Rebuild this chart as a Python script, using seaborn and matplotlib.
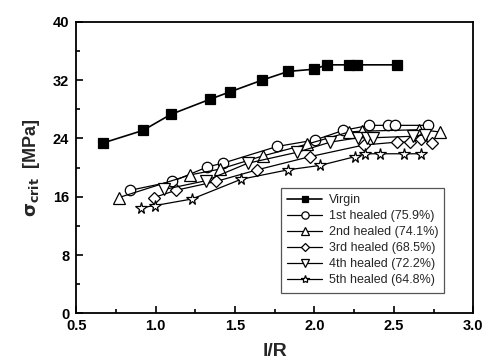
import matplotlib
matplotlib.use("Agg")
import matplotlib.pyplot as plt
import seaborn as sns
import pandas as pd

sns.set_style("ticks")
plt.rcParams['font.family'] = ['Liberation Sans', 'DejaVu Sans']

virgin_x = [0.672, 0.92, 1.096, 1.345, 1.469, 1.67, 1.835, 1.997, 2.077, 2.215, 2.27, 2.517]
virgin_y = [23.4, 25.1, 27.3, 29.4, 30.4, 32.0, 33.2, 33.5, 34.1, 34.1, 34.1, 34.1]

h1_x = [0.842, 1.106, 1.326, 1.422, 1.764, 2.005, 2.18, 2.345, 2.46, 2.506, 2.716]
h1_y = [16.9, 18.1, 20.1, 20.6, 22.9, 23.8, 25.1, 25.8, 25.8, 25.8, 25.8]

h2_x = [0.77, 1.217, 1.406, 1.674, 1.95, 2.22, 2.3, 2.66, 2.79]
h2_y = [15.9, 19.0, 19.8, 21.6, 23.2, 24.9, 25.0, 25.2, 24.9]

h3_x = [0.99, 1.13, 1.38, 1.64, 1.97, 2.31, 2.52, 2.60, 2.67, 2.74]
h3_y = [15.9, 16.9, 18.1, 19.7, 21.5, 23.1, 23.5, 23.5, 23.9, 23.4]

h4_x = [1.053, 1.316, 1.58, 1.89, 2.1, 2.276, 2.33, 2.37, 2.62, 2.695]
h4_y = [17.0, 18.2, 20.6, 22.1, 23.5, 24.1, 24.1, 24.1, 24.3, 24.5]

h5_x = [0.909, 0.997, 1.23, 1.538, 1.834, 2.035, 2.255, 2.32, 2.41, 2.565, 2.67]
h5_y = [14.5, 14.8, 15.7, 18.4, 19.7, 20.3, 21.5, 21.9, 21.9, 21.9, 21.9]

labels = ["Virgin", "1st healed (75.9%)", "2nd healed (74.1%)", "3rd healed (68.5%)",
          "4th healed (72.2%)", "5th healed (64.8%)"]
x_ticks = [0.5, 1.0, 1.5, 2.0, 2.5, 3.0]
x_ticklabels = ["0.5", "1.0", "1.5", "2.0", "2.5", "3.0"]
y_ticks = [0, 8, 16, 24, 32, 40]
y_ticklabels = ["0", "8", "16", "24", "32", "40"]

xs = [virgin_x, h1_x, h2_x, h3_x, h4_x, h5_x]
ys = [virgin_y, h1_y, h2_y, h3_y, h4_y, h5_y]
markers = ["s", "o", "^", "D", "v", "*"]
msizes = [7, 7.5, 8, 6.5, 8, 8.5]

fig = plt.figure(figsize=(4.85, 3.64), dpi=100)
ax = fig.add_axes([0.157, 0.139, 0.819, 0.801])

for i, (x, y) in enumerate(zip(xs, ys)):
    df = pd.DataFrame({"x": x, "y": y})
    fc = "black" if i == 0 else "white"
    sns.lineplot(data=df, x="x", y="y", ax=ax, sort=False, color="black",
                 linewidth=1.2 if i == 0 else 0.9,
                 marker=markers[i], markersize=msizes[i], markerfacecolor=fc,
                 markeredgecolor="black", markeredgewidth=0.9, label=labels[i])

ax.set_xlim(0.5, 3.0)
ax.set_ylim(0, 40)
ax.set_xticks(x_ticks, x_ticklabels, fontweight="bold")
ax.set_yticks(y_ticks, y_ticklabels, fontweight="bold")
ax.set_xticks([0.75, 1.25, 1.75, 2.25, 2.75], minor=True)
ax.set_yticks([4, 12, 20, 28, 36], minor=True)
ax.tick_params(which="both", direction="in", width=1.2, colors="black",
               labelsize=10.5)
ax.tick_params(axis="x", pad=4)
ax.tick_params(axis="y", pad=5)
ax.tick_params(which="major", length=5)
ax.tick_params(which="minor", length=3)
for s in ax.spines.values():
    s.set_linewidth(1.3)
    s.set_color("black")

ax.set_xlabel("l/R", fontsize=14, fontweight="bold", labelpad=7)
ax.set_ylabel(r"$\mathbf{\sigma}_{\mathbf{crit}}$  [MPa]", fontsize=13, fontweight="bold", labelpad=8)

leg = ax.legend(loc="lower right", bbox_to_anchor=(0.943, 0.05), fontsize=9,
                frameon=True, fancybox=False, edgecolor="#555555", framealpha=1,
                handlelength=2.8, handletextpad=0.5, labelspacing=0.32,
                borderpad=0.5, markerscale=0.7)
leg.get_frame().set_linewidth(0.9)

fig.savefig("out.png", dpi=100)
